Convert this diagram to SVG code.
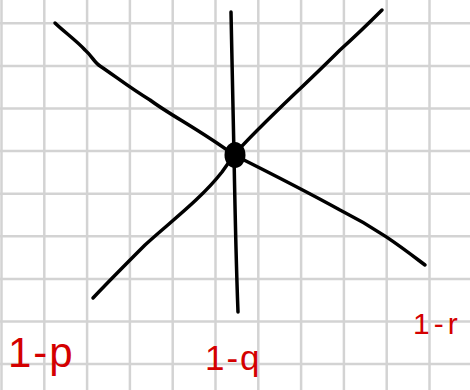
<svg xmlns="http://www.w3.org/2000/svg" width="470" height="390" viewBox="0 0 470 390">
<style>
.grid line{stroke:#d3d3d3;stroke-width:2.5}
.ink{fill:none;stroke:#000;stroke-width:3.5;stroke-linecap:round;stroke-linejoin:round}
.lbl{fill:#d40000;font-family:"Liberation Sans",Arial,sans-serif}
</style>
<rect width="470" height="390" fill="#fff"/>
<g class="grid" id="grid">
<line x1="1.5" y1="0" x2="1.5" y2="390"/>
<line x1="44.3" y1="0" x2="44.3" y2="390"/>
<line x1="87.1" y1="0" x2="87.1" y2="390"/>
<line x1="129.9" y1="0" x2="129.9" y2="390"/>
<line x1="172.7" y1="0" x2="172.7" y2="390"/>
<line x1="215.5" y1="0" x2="215.5" y2="390"/>
<line x1="258.3" y1="0" x2="258.3" y2="390"/>
<line x1="301.1" y1="0" x2="301.1" y2="390"/>
<line x1="343.9" y1="0" x2="343.9" y2="390"/>
<line x1="386.7" y1="0" x2="386.7" y2="390"/>
<line x1="429.5" y1="0" x2="429.5" y2="390"/>
<line x1="0" y1="23.3" x2="470" y2="23.3"/>
<line x1="0" y1="65.9" x2="470" y2="65.9"/>
<line x1="0" y1="108.5" x2="470" y2="108.5"/>
<line x1="0" y1="151.1" x2="470" y2="151.1"/>
<line x1="0" y1="193.7" x2="470" y2="193.7"/>
<line x1="0" y1="236.3" x2="470" y2="236.3"/>
<line x1="0" y1="278.9" x2="470" y2="278.9"/>
<line x1="0" y1="321.5" x2="470" y2="321.5"/>
<line x1="0" y1="364.1" x2="470" y2="364.1"/>
</g>
<g id="connectors" class="ink">
<path d="M55,23 C62,30 78,42 85,50 C92,56 94,62 100,66 C115,76 130,88 150,100 C170,115 200,130 234,155 C260,168 300,188 340,210 C380,230 405,250 425,265"/>
<path d="M93,298 C110,280 125,265 145,245 C170,222 200,200 222,172 L234,155 C260,125 300,90 340,50 C360,32 372,20 382,10"/>
<path d="M231,12 C232,60 233,110 234,155 C235,210 236,260 238,312"/>
</g>
<g id="center">
<ellipse cx="235" cy="155" rx="10.5" ry="13"/>
</g>
<g id="label-p"><text class="lbl" x="8" y="367" font-size="42" letter-spacing="2">1-p</text></g>
<g id="label-q"><text class="lbl" x="205" y="370" font-size="35" letter-spacing="2">1-q</text></g>
<g id="label-r"><text class="lbl" x="413" y="334" font-size="30" letter-spacing="4">1-r</text></g>
</svg>
